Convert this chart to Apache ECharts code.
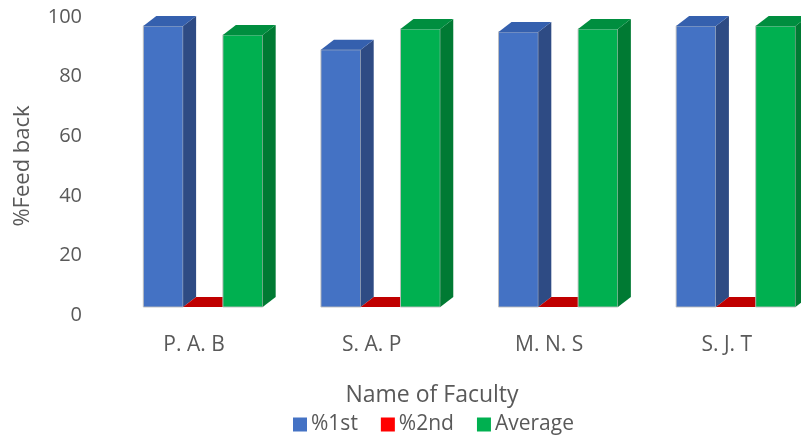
<!DOCTYPE html>
<html>
<head>
<meta charset="utf-8">
<script src="https://cdn.jsdelivr.net/npm/echarts@6/dist/echarts.min.js"></script>
<style>
  html, body { margin: 0; padding: 0; background: #fff; }
  #chart { width: 801px; height: 442px; }
</style>
</head>
<body>
<div id="chart"></div>
<script>
var faculty = ['P. A. B', 'S. A. P', 'M. N. S', 'S. J. T'];
var first = [97, 89, 95, 97];
var second = [0, 0, 0, 0];
var average = [94, 96, 96, 97];
var yTicks = [0, 20, 40, 60, 80, 100];

// front / side / top colours per series
var faces = [
  { front: '#4472C4', side: '#2E4B84', top: '#3560AE', legend: '#4472C4' },
  { front: '#C00000', side: '#8E0000', top: '#C00000', legend: '#FF0000' },
  { front: '#00B050', side: '#007A33', top: '#008E3F', legend: '#00B050' }
];

var DX = 13, DY = 10, LIFT = 8;
var BAND = 177.6; // px per faculty

function make3d(k) {
  return function (params, api) {
    var idx = api.value(0);
    var v = api.value(1);
    var band = api.size([1, 0])[0];
    var bw = band * 0.224;
    var c0 = api.coord([idx, 0]);
    var c1 = api.coord([idx, v]);
    var base = c0[1] - LIFT;
    var top = Math.min(c1[1], base);
    var x0 = c0[0] - 1.5 * bw + k * bw;
    var f = faces[k];
    var kids = [];
    if (base - top > 0.5) {
      kids.push({
        type: 'rect',
        shape: { x: x0, y: top, width: bw, height: base - top },
        style: { fill: f.front, stroke: 'rgba(190,190,190,0.9)', lineWidth: 1 }
      });
      kids.push({
        type: 'polygon',
        shape: { points: [[x0 + bw, top], [x0 + bw + DX, top - DY], [x0 + bw + DX, base - DY], [x0 + bw, base]] },
        style: { fill: f.side }
      });
    }
    kids.push({
      type: 'polygon',
      shape: { points: [[x0, top], [x0 + DX, top - DY], [x0 + bw + DX, top - DY], [x0 + bw, top]] },
      style: { fill: f.top }
    });
    return { type: 'group', children: kids };
  };
}

function seriesData(arr) {
  return arr.map(function (v, i) { return [i, v]; });
}

var chart = echarts.init(document.getElementById('chart'));
var names = ['%1st', '%2nd', 'Average'];
var lists = [first, second, average];

var gridLeft = 203, gridW = 598;

var option = {
  backgroundColor: '#fff',
  animation: false,
  textStyle: { fontFamily: 'Open Sans' },
  grid: { left: gridLeft, top: 17, width: gridW, height: 298 },
  legend: {
    left: 288,
    top: 409,
    icon: 'rect',
    itemWidth: 14,
    itemHeight: 14,
    itemGap: 23,
    textStyle: { fontSize: 21, color: '#595959', padding: [0, 0, 0, -1] },
    data: names
  },
  xAxis: {
    type: 'value',
    min: 0,
    max: gridW / BAND,
    interval: 1,
    name: 'Name of Faculty',
    nameLocation: 'middle',
    nameGap: 69,
    nameTextStyle: { fontSize: 23, color: '#595959', padding: [0, 140, 0, 0] },
    axisLine: { show: false },
    axisTick: { show: false },
    splitLine: { show: false },
    axisLabel: {
      fontSize: 21, color: '#595959', margin: 20, padding: [0, 18, 0, 0],
      showMaxLabel: false,
      formatter: function (v) { return faculty[v] || ''; }
    }
  },
  yAxis: {
    type: 'value',
    min: yTicks[0],
    max: yTicks[yTicks.length - 1],
    interval: 20,
    name: '%Feed back',
    nameLocation: 'middle',
    nameGap: 169,
    nameTextStyle: { fontSize: 22, color: '#595959' },
    axisLine: { show: false },
    axisTick: { show: false },
    splitLine: { show: false },
    axisLabel: { fontSize: 20, color: '#595959', margin: 121 }
  },
  series: names.map(function (n, k) {
    return {
      name: n,
      type: 'custom',
      renderItem: make3d(k),
      itemStyle: { color: faces[k].legend },
      encode: { x: 0, y: 1 },
      data: seriesData(lists[k])
    };
  })
};

chart.setOption(option);
</script>
</body>
</html>
